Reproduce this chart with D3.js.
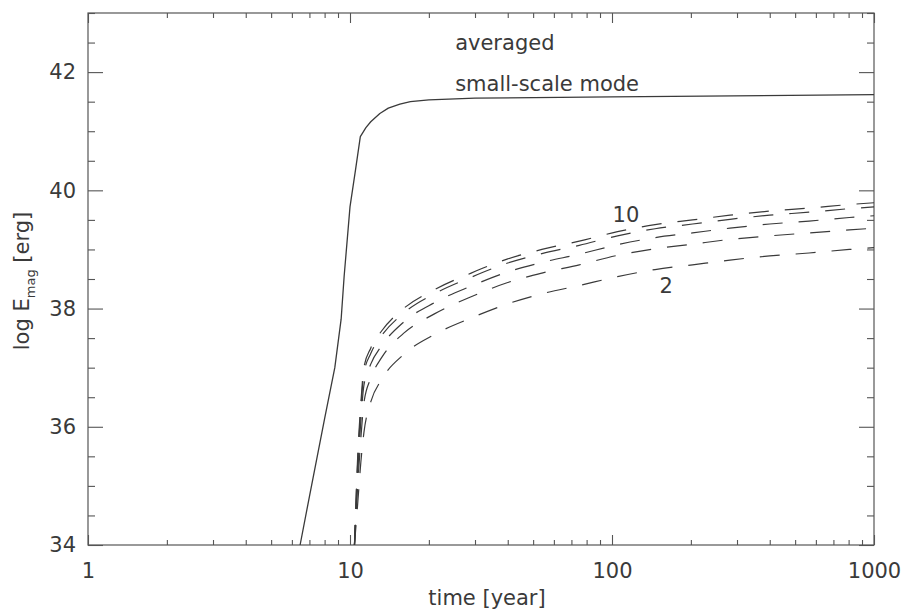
<!DOCTYPE html>
<html>
<head>
<meta charset="utf-8">
<script src="https://cdn.jsdelivr.net/npm/d3@7"></script>
<style>
body { margin: 0; background: #fff; }
svg text { font-family: "DejaVu Sans", sans-serif; fill: #3a3a3a; }
</style>
</head>
<body>
<div id="chart"></div>
<script>
// solid curve: averaged small-scale mode
var solidTime = [6.45, 7, 8, 8.75, 9.25, 9.5, 10, 10.5, 10.95, 11.5, 12, 13, 14, 15.5, 17, 20, 30, 100, 1000];
var solidLogE = [34.0, 34.82, 36.14, 37.0, 37.82, 38.55, 39.72, 40.35, 40.91, 41.06, 41.16, 41.3, 41.39, 41.46, 41.5, 41.53, 41.56, 41.58, 41.62];

// dashed curves, sampled on the same time grid
var dashTime = [10.4, 10.7, 11.0, 11.3, 12, 13.2, 16, 21, 29, 40, 54, 75, 105, 146, 203, 282, 400, 565, 805, 1000];
var dash10 = [34.0, 35.5, 36.4, 37.0, 37.33, 37.62, 38.0, 38.32, 38.6, 38.84, 39.0, 39.14, 39.3, 39.42, 39.5, 39.58, 39.65, 39.7, 39.76, 39.79];
var dash8  = [34.0, 35.4, 36.3, 36.9, 37.24, 37.54, 37.92, 38.25, 38.53, 38.77, 38.93, 39.07, 39.23, 39.35, 39.43, 39.51, 39.58, 39.63, 39.69, 39.72];
var dash6  = [34.0, 35.2, 36.1, 36.7, 37.06, 37.37, 37.77, 38.1, 38.38, 38.62, 38.78, 38.92, 39.08, 39.2, 39.28, 39.36, 39.43, 39.48, 39.54, 39.57];
var dash4  = [34.0, 35.0, 35.8, 36.4, 36.82, 37.17, 37.58, 37.91, 38.2, 38.44, 38.6, 38.74, 38.9, 39.01, 39.09, 39.17, 39.23, 39.28, 39.33, 39.36];
var dash2  = [34.0, 34.7, 35.4, 35.9, 36.42, 36.8, 37.22, 37.56, 37.84, 38.08, 38.25, 38.39, 38.54, 38.66, 38.74, 38.82, 38.89, 38.94, 39.0, 39.03];

var xMajor = [1, 10, 100, 1000];
var xLabels = ["1", "10", "100", "1000"];
var yMajor = [34, 36, 38, 40, 42];

var width = 907;
var height = 609;
var margin = {top: 13, right: 33, bottom: 64, left: 88};
var w = width - margin.left - margin.right;
var h = height - margin.top - margin.bottom;

var svg = d3.select('#chart')
    .append('svg')
    .attr('width', width)
    .attr('height', height)
    .append('g')
    .attr('transform', 'translate(' + margin.left + ',' + margin.top + ')');

var x = d3.scaleLog().domain([1, 1000]).range([0, w]);
var y = d3.scaleLinear().domain([34, 43]).range([h, 0]);

// minor tick values
var xMinor = [];
[1, 10, 100].forEach(function(d) {
    for (var k = 2; k < 10; k++) xMinor.push(d * k);
});
var yMinor = d3.range(34, 43.01, 0.5).filter(function(v) { return v % 2 != 0; });

function styleAxis(g) {
    g.select('.domain').remove();
    g.selectAll('line').attr('stroke', '#555').attr('stroke-width', 1.1);
    g.selectAll('text').style('font-size', '21px').attr('fill', '#3a3a3a');
}

// bottom
svg.append('g').attr('transform', 'translate(0,' + h + ')')
    .call(d3.axisBottom(x).tickValues(xMinor).tickSize(-5).tickFormat(''))
    .call(styleAxis);
svg.append('g').attr('transform', 'translate(0,' + h + ')')
    .call(d3.axisBottom(x).tickValues(xMajor).tickSize(-10).tickPadding(18)
        .tickFormat(function(d, i) { return xLabels[i]; }))
    .call(styleAxis);
// top
svg.append('g')
    .call(d3.axisTop(x).tickValues(xMinor).tickSize(-5).tickFormat(''))
    .call(styleAxis);
svg.append('g')
    .call(d3.axisTop(x).tickValues(xMajor).tickSize(-10).tickFormat(''))
    .call(styleAxis);
// left
svg.append('g')
    .call(d3.axisLeft(y).tickValues(yMinor).tickSize(-7).tickFormat(''))
    .call(styleAxis);
svg.append('g')
    .call(d3.axisLeft(y).tickValues(yMajor).tickSize(-15).tickPadding(12).tickFormat(d3.format('d')))
    .call(styleAxis);
// right
svg.append('g').attr('transform', 'translate(' + w + ',0)')
    .call(d3.axisRight(y).tickValues(yMinor).tickSize(-7).tickFormat(''))
    .call(styleAxis);
svg.append('g').attr('transform', 'translate(' + w + ',0)')
    .call(d3.axisRight(y).tickValues(yMajor).tickSize(-15).tickFormat(''))
    .call(styleAxis);

// frame
svg.append('rect')
    .attr('width', w)
    .attr('height', h)
    .attr('fill', 'none')
    .attr('stroke', '#555')
    .attr('stroke-width', 1.2);

var solidLine = d3.line()
    .x(function(d) { return x(d[0]); })
    .y(function(d) { return y(d[1]); });

var dashLine = d3.line()
    .x(function(d) { return x(d[0]); })
    .y(function(d) { return y(d[1]); })
    .curve(d3.curveMonotoneX);

svg.append('path')
    .datum(d3.zip(solidTime, solidLogE))
    .attr('fill', 'none')
    .attr('stroke', '#3a3a3a')
    .attr('stroke-width', 1.3)
    .attr('stroke-linejoin', 'round')
    .attr('d', solidLine);

[dash2, dash4, dash6, dash8, dash10].forEach(function(series) {
    svg.append('path')
        .datum(d3.zip(dashTime, series))
        .attr('fill', 'none')
        .attr('stroke', '#3a3a3a')
        .attr('stroke-width', 1.2)
        .attr('stroke-dasharray', '20,16')
        .attr('d', dashLine);
});

// annotations
svg.append('text').attr('x', x(25.2)).attr('y', y(42.38))
    .style('font-size', '21px').text('averaged');
svg.append('text').attr('x', x(25.2)).attr('y', y(41.68))
    .style('font-size', '21px').text('small-scale mode');
svg.append('text').attr('x', x(113)).attr('y', y(39.47))
    .attr('text-anchor', 'middle').style('font-size', '21px').text('10');
svg.append('text').attr('x', x(161)).attr('y', y(38.26))
    .attr('text-anchor', 'middle').style('font-size', '21px').text('2');

// axis titles
svg.append('text')
    .attr('x', w / 2 + 6)
    .attr('y', h + 60)
    .attr('text-anchor', 'middle')
    .style('font-size', '21px')
    .text('time [year]');

var ylab = svg.append('text')
    .attr('transform', 'translate(' + (-59) + ',' + (h / 2 + 2) + ') rotate(-90)')
    .attr('text-anchor', 'middle')
    .style('font-size', '21px');
ylab.append('tspan').text('log E');
ylab.append('tspan').attr('dy', 6).style('font-size', '13px').text('mag');
ylab.append('tspan').attr('dy', -6).text(' [erg]');
</script>
</body>
</html>
